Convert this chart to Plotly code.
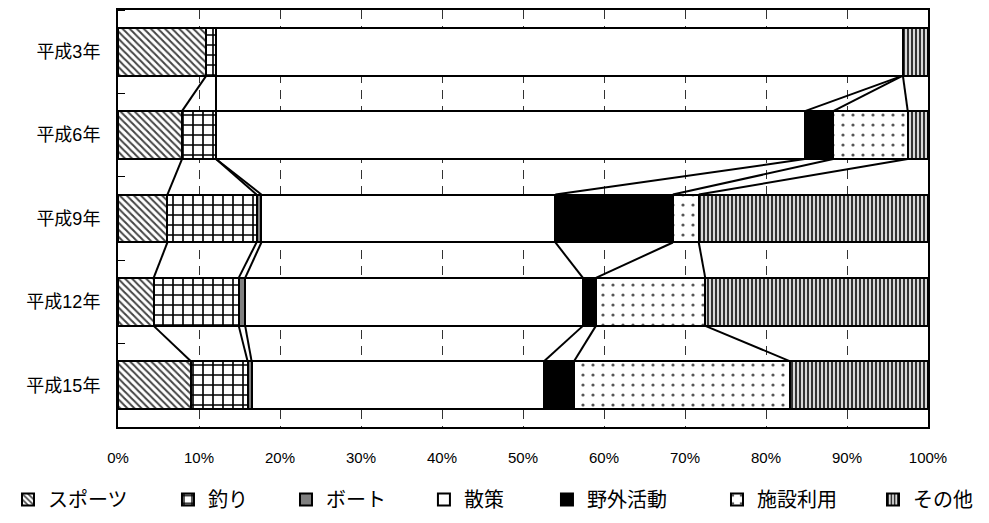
import plotly.graph_objects as go

years = ["平成3年", "平成6年", "平成9年", "平成12年", "平成15年"]
series_names = ["スポーツ", "釣り", "ボート", "散策", "野外活動", "施設利用", "その他"]
sports = [10.9, 7.9, 6.1, 4.4, 9.0]
fishing = [1.2, 4.2, 11.0, 10.5, 7.0]
boat = [0.0, 0.0, 0.6, 0.8, 0.5]
walk = [84.8, 72.7, 36.3, 41.7, 36.1]
outdoor = [0.0, 3.5, 14.5, 1.6, 3.7]
facility = [0.0, 9.2, 3.2, 13.5, 26.7]
other = [3.1, 2.5, 28.3, 27.5, 17.0]
tick_labels = ["0%", "10%", "20%", "30%", "40%", "50%", "60%", "70%", "80%", "90%", "100%"]

values = [sports, fishing, boat, walk, outdoor, facility, other]
styles = [
    dict(shape="\\", fgcolor="#444444", bgcolor="white", size=5, solidity=0.4),
    dict(shape="+", fgcolor="black", bgcolor="white", size=10, solidity=0.3),
    None,
    None,
    None,
    dict(shape=".", fgcolor="#555555", bgcolor="white", size=10, solidity=0.08),
    dict(shape="|", fgcolor="#333333", bgcolor="#d8d8d8", size=4, solidity=0.5),
]
solid = [None, None, "#808080", "white", "black", None, None]
legend_x = [-0.1358, 0.0617, 0.2074, 0.3777, 0.5296, 0.7395, 0.9321]

FONT = "Liberation Sans, Arial, Noto Sans CJK JP, sans-serif"
BW = 0.575
ypos = list(range(len(years)))

fig = go.Figure()
legend_layout = {}
for j, (name, vals, pat, col) in enumerate(zip(series_names, values, styles, solid)):
    marker = dict(line=dict(color="black", width=2))
    if pat is not None:
        marker["color"] = "white"
        marker["pattern"] = dict(fillmode="replace", **pat)
    else:
        marker["color"] = col
    lname = "legend" if j == 0 else f"legend{j + 1}"
    fig.add_trace(go.Bar(
        x=vals, y=ypos, orientation="h", name=name, width=BW,
        marker=marker, legend=lname,
    ))
    legend_layout[lname] = dict(
        orientation="h", x=legend_x[j], xanchor="left", y=-0.127, yanchor="top",
        font=dict(size=20, family="Noto Sans CJK JP, sans-serif"),
        itemwidth=30, bgcolor="rgba(0,0,0,0)",
    )

# series (connector) lines between bars
cums = []
for i in range(len(years)):
    c, acc = [], 0.0
    for vals in values[:-1]:
        acc += vals[i]
        c.append(acc)
    cums.append(c)
lx, ly = [], []
for i in range(len(years) - 1):
    for k in range(len(values) - 1):
        lx += [cums[i][k], cums[i + 1][k], None]
        ly += [i + BW / 2, i + 1 - BW / 2, None]
fig.add_trace(go.Scatter(x=lx, y=ly, mode="lines", line=dict(color="black", width=2),
                         showlegend=False, hoverinfo="skip"))

fig.update_layout(
    barmode="stack",
    width=981, height=515,
    margin=dict(l=110, r=61, t=2, b=96, autoexpand=False),
    paper_bgcolor="white", plot_bgcolor="white",
    font=dict(family=FONT, color="black"),
    showlegend=True,
    **legend_layout,
)
fig.update_xaxes(
    range=[0, 100], tickvals=list(range(0, 101, 10)), ticktext=tick_labels,
    showgrid=True, gridcolor="#333333", gridwidth=1, griddash="9px,7px",
    showline=True, mirror=True, linecolor="black", linewidth=2,
    ticks="", tickfont=dict(size=15, family=FONT), ticklabelstandoff=16,
    zeroline=False,
)
fig.update_yaxes(
    range=[4.5, -0.5], tickvals=ypos, ticktext=years,
    showgrid=False, showline=True, mirror=True, linecolor="black", linewidth=2,
    ticks="", tickfont=dict(size=18, family=FONT),
    ticklabelstandoff=12, zeroline=False,
    minor=dict(tickmode="linear", tick0=0.5, dtick=1, ticks="inside", ticklen=7,
               tickcolor="black", tickwidth=1, showgrid=False),
)

fig.write_html("out.html")
